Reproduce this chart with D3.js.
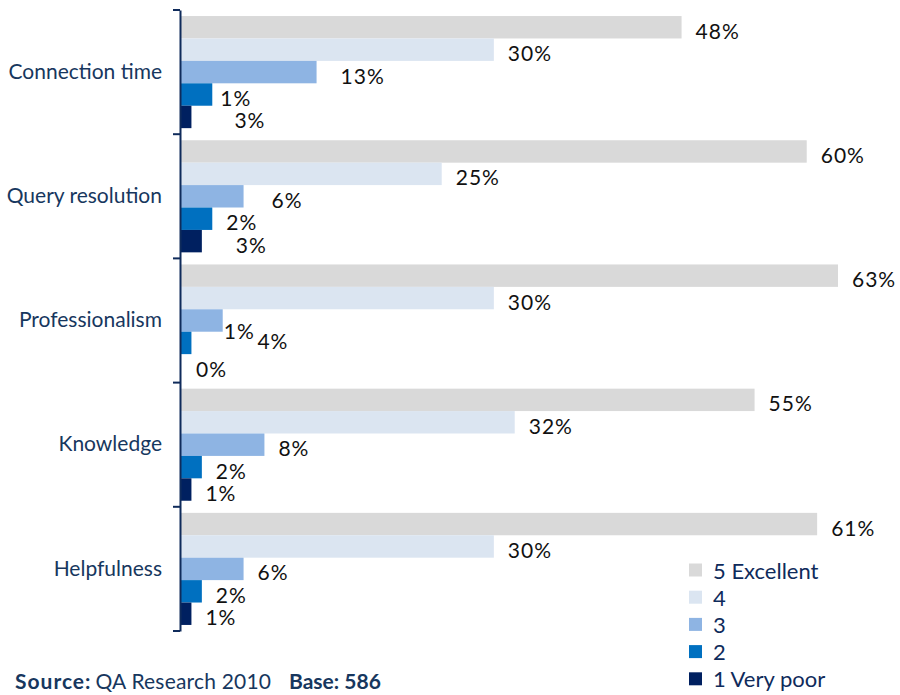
<!DOCTYPE html>
<html><head><meta charset="utf-8">
<script src="https://cdn.jsdelivr.net/npm/d3@7"></script>
<style>body{margin:0;background:#fff}svg{display:block}</style>
</head><body>
<svg id="c" width="900" height="695"></svg>
<script>
// ---- data ----
const categories = ["Connection time", "Query resolution", "Professionalism", "Knowledge", "Helpfulness"];
const seriesNames = ["5 Excellent", "4", "3", "2", "1 Very poor"];
const seriesColors = ["#d9d9d9", "#dbe5f1", "#8eb4e3", "#0070c0", "#002060"];
// bar values (percent) per category, series order 5..1
const excellent = [48, 60, 63, 55, 61];
const four      = [30, 25, 30, 32, 30];
const three     = [13, 6, 4, 8, 6];
const two       = [3, 3, 1, 2, 2];
const veryPoor  = [1, 2, 0, 1, 1];
// data label texts as printed in the original, per category row
const labelTexts = [
  ["48%", "30%", "13%", "1%", "3%"],
  ["60%", "25%", "6%", "2%", "3%"],
  ["63%", "30%", "1%", "4%", "0%"],
  ["55%", "32%", "8%", "2%", "1%"],
  ["61%", "30%", "6%", "2%", "1%"]
];
// manual label nudges from the original chart [dx, dy]
const labelNudge = [
  [[0,0],[0,0],[10,0],[-6,0],[29,0]],
  [[0,0],[0,0],[14,0],[0,0],[20,0]],
  [[0,0],[0,0],[-13,7],[52,-5],[1,0]],
  [[0,0],[0,0],[0,0],[0,0],[0,0]],
  [[0,0],[0,0],[0,0],[0,0],[0,0]]
];

const seriesValues = [excellent, four, three, two, veryPoor];
const svg = d3.select("#c");
const font = "Lato, 'Open Sans', sans-serif";

const x = d3.scaleLinear().domain([0, 70]).range([180, 180 + 730]);
const y = d3.scaleBand().domain(categories).range([10, 631]).padding(0);
const ys = d3.scaleBand().domain(d3.range(5)).range([0, y.bandwidth()]).paddingInner(0).paddingOuter(0.27);

categories.forEach((cat, ci) => {
  const g = svg.append("g").attr("transform", `translate(0,${y(cat)})`);
  seriesValues.forEach((vals, si) => {
    g.append("rect")
      .attr("x", x(0) + 1)
      .attr("y", ys(si))
      .attr("width", Math.max(0, x(vals[ci]) - x(0)))
      .attr("height", ys.bandwidth())
      .attr("fill", seriesColors[si]);
  });
  seriesValues.forEach((vals, si) => {
    const nd = labelNudge[ci][si];
    g.append("text")
      .attr("x", x(vals[ci]) + 15 + nd[0])
      .attr("y", ys(si) + ys.bandwidth() / 2 + 3 + nd[1])
      .attr("dominant-baseline", "central")
      .attr("font-family", font)
      .attr("font-size", 21)
      .attr("letter-spacing", 1)
      .attr("fill", "#111")
      .text(labelTexts[ci][si]);
  });
});

// axis
const axis = d3.axisLeft(y).tickSize(0).tickPadding(18).tickSizeOuter(0);
const ag = svg.append("g").attr("transform", "translate(180,0)").call(axis);
ag.select(".domain").attr("stroke", "#0f2b5b").attr("stroke-width", 2);
ag.selectAll("text").attr("font-family", font).attr("font-size", 21).attr("fill", "#17375e");
// category boundary ticks
const bounds = categories.map(c => y(c)).concat([y.range()[1]]);
svg.append("g").selectAll("line").data(bounds).join("line")
  .attr("x1", 173).attr("x2", 180).attr("y1", d => d).attr("y2", d => d)
  .attr("stroke", "#0f2b5b").attr("stroke-width", 2);

// legend
const lg = svg.append("g").attr("transform", "translate(689,570)");
seriesNames.forEach((n, i) => {
  const row = lg.append("g").attr("transform", `translate(0,${i * 27.2})`);
  row.append("rect").attr("x", 0).attr("y", -6.5).attr("width", 13).attr("height", 13).attr("fill", seriesColors[i]);
  row.append("text").attr("x", 24).attr("y", 0).attr("dominant-baseline", "central")
    .attr("font-family", font).attr("font-size", 22).attr("fill", "#0f2b5b").text(n);
});

// source
const st = svg.append("text").attr("x", 15).attr("y", 689)
  .attr("font-family", font).attr("font-size", 21).attr("fill", "#17375e");
st.append("tspan").attr("font-weight", "bold").attr("letter-spacing", 1).text("Source:");
st.append("tspan").attr("dx", 4).attr("letter-spacing", 0.2).text("QA Research 2010");
svg.append("text").attr("x", 289).attr("y", 689)
  .attr("font-family", font).attr("font-size", 21).attr("font-weight", "bold").attr("fill", "#17375e")
  .text("Base: 586");
</script>
</body></html>
